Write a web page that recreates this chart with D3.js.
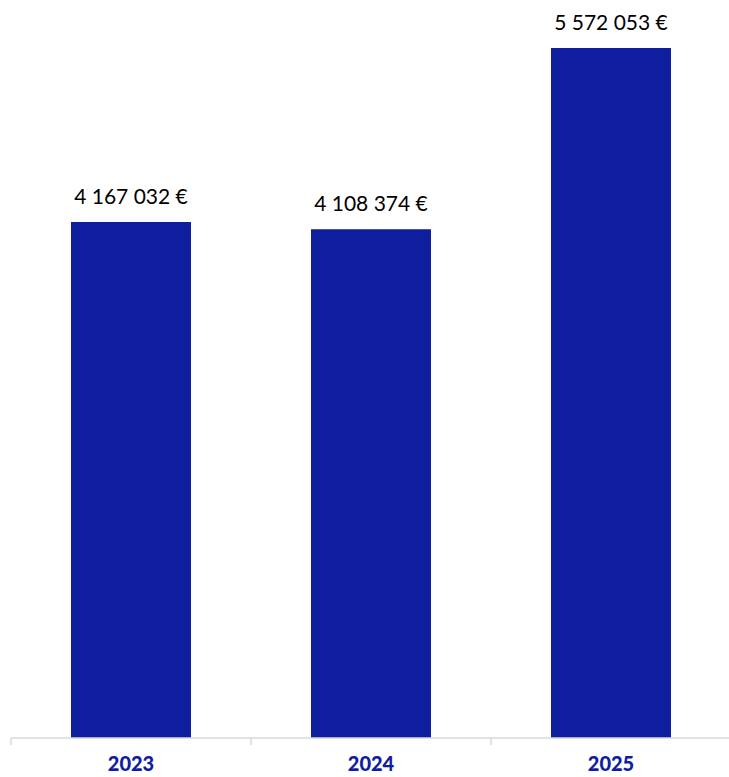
<!DOCTYPE html>
<html>
<head>
<meta charset="utf-8">
<script src="https://cdn.jsdelivr.net/npm/d3@7"></script>
<style>
  body { margin: 0; background: #fff; }
  svg text { font-family: Lato, "Open Sans", sans-serif; }
</style>
</head>
<body>
<div id="chart"></div>
<script>
  var years = ["2023", "2024", "2025"];
  var amounts = [4167032, 4108374, 5572053];

  var width = 729, height = 777;
  var baseY = 738;

  var svg = d3.select("#chart").append("svg")
    .attr("width", width)
    .attr("height", height);

  var x = d3.scaleBand()
    .domain(years)
    .range([11, 731])
    .paddingInner(0.5)
    .paddingOuter(0.25);

  var y = d3.scaleLinear()
    .domain([0, d3.max(amounts)])
    .range([baseY, 48]);

  function fmt(v) {
    return d3.format(",")(v).replace(/,/g, " ") + " €";
  }

  // bars
  svg.selectAll("rect.bar")
    .data(amounts)
    .enter().append("rect")
    .attr("class", "bar")
    .attr("x", function(d, i) { return x(years[i]); })
    .attr("y", function(d) { return y(d); })
    .attr("width", x.bandwidth())
    .attr("height", function(d) { return baseY - y(d); })
    .attr("fill", "#0e1e9e");

  // value labels
  svg.selectAll("text.val")
    .data(amounts)
    .enter().append("text")
    .attr("class", "val")
    .attr("x", function(d, i) { return x(years[i]) + x.bandwidth() / 2; })
    .attr("y", function(d) { return y(d) - 18; })
    .attr("text-anchor", "middle")
    .attr("font-size", "21px")
    .attr("fill", "#000")
    .text(fmt);

  // axis line + ticks
  var step = x.step();
  var g = svg.append("g").attr("stroke", "#d9d9d9").attr("stroke-width", 1.5);
  g.append("line")
    .attr("x1", 11).attr("x2", 731)
    .attr("y1", baseY).attr("y2", baseY);
  var tickXs = [11].concat(years.map(function(d) { return x(d) - x.paddingOuter() * step + step; }));
  g.selectAll("line.tick")
    .data(tickXs)
    .enter().append("line")
    .attr("class", "tick")
    .attr("x1", function(d) { return d; }).attr("x2", function(d) { return d; })
    .attr("y1", baseY).attr("y2", baseY + 7);

  // year labels
  svg.selectAll("text.year")
    .data(years)
    .enter().append("text")
    .attr("class", "year")
    .attr("x", function(d) { return x(d) + x.bandwidth() / 2; })
    .attr("y", 771)
    .attr("text-anchor", "middle")
    .attr("font-size", "20px")
    .attr("font-weight", "900")
    .attr("fill", "#0e1e9e")
    .text(function(d) { return d; });
</script>
</body>
</html>
